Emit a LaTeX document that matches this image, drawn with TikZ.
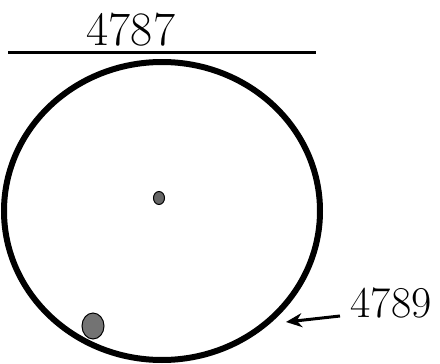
\documentclass[tikz,border=0pt]{standalone}
\usetikzlibrary{arrows.meta}
\begin{document}
\begin{tikzpicture}[x=1pt,y=-1pt]
\useasboundingbox (0,0) rectangle (440,364);
\tikzset{refnum/.style={inner sep=0pt, font=\fontsize{48}{48}\selectfont}}
\node[refnum] (lid) at (131,30) {4787};
\coordinate (la) at (8,52);
\coordinate (lb) at (316,52);
\draw[line width=3pt] (la) -- (lb);
\draw[line width=6pt] (162,211) ellipse (158 and 149);
% small marks inside
\draw[fill=black!60, line width=1pt] (159,198) ellipse (5.5 and 6.5);
\draw[fill=black!55, line width=1pt] (93,326) ellipse (11 and 13);
\node[refnum, font=\fontsize{44}{44}\selectfont] (edge) at (391,303) {4789};
\coordinate (tail) at (340,316);
\coordinate (tip) at (286,322);
\draw[line width=3pt, -{Stealth[length=16pt,width=14pt]}] (tail) -- (tip);
\end{tikzpicture}
\end{document}
